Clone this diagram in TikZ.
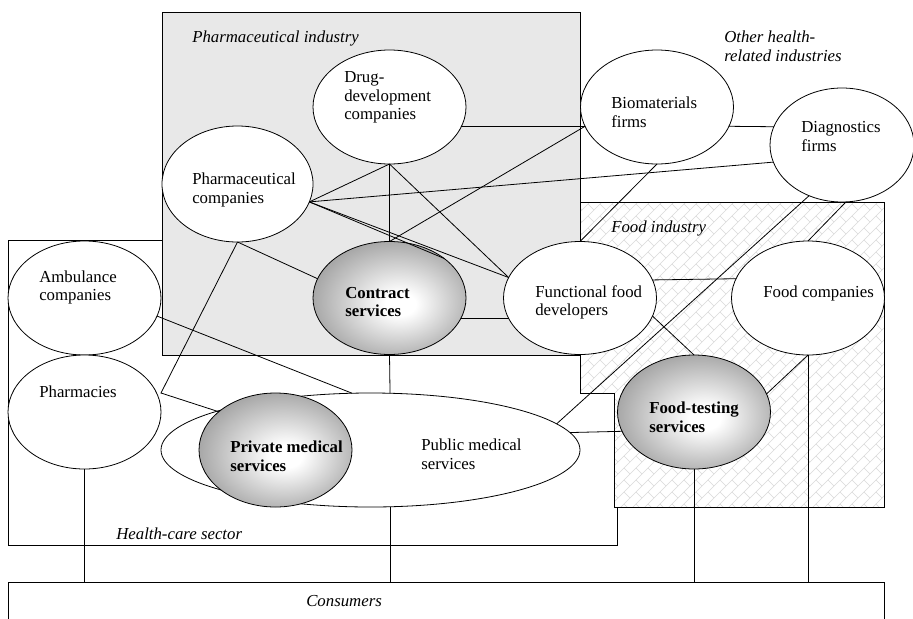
\documentclass[tikz,border=0pt]{standalone}
\usepackage{fontspec}
\setmainfont{Liberation Serif}
\usetikzlibrary{shapes.geometric}
\definecolor{pharmabg}{RGB}{232,232,232}
\definecolor{hatchgray}{RGB}{218,218,218}
% soft highlight for the service ellipses
\pgfdeclareradialshading{servshade}{\pgfpoint{4bp}{-3bp}}{color(0bp)=(white); color(5bp)=(white); color(28bp)=(black!36); color(50bp)=(black!68)}

\begin{document}
\begin{tikzpicture}[x=0.75pt,y=-0.75pt,
  frame/.style={draw=black, line width=0.7pt},
  conn/.style={draw=black, line width=0.6pt},
  hatch/.style={draw=hatchgray, line width=0.45pt},
  ell/.style={ellipse, draw=black, line width=0.6pt, fill=white, inner sep=0pt, outer sep=0pt,
              minimum width=114.75pt, minimum height=85.5pt},
  svc/.style={ell, shading=servshade},
  txt/.style={font=\fontsize{12.6pt}{14pt}\selectfont, align=left, inner sep=0pt, anchor=west},
  itxt/.style={txt, font=\fontsize{12.6pt}{14pt}\selectfont\itshape},
  btxt/.style={txt, font=\fontsize{12.6pt}{14pt}\selectfont\bfseries}]

\useasboundingbox (0,0) rectangle (913,618);
\clip (0,0) rectangle (913,618);
\fill[white] (0,0) rectangle (913,618);

% sector frames
\draw[frame, fill=white] (8,240) rectangle (617,545);
\draw[frame, fill=pharmabg] (162,12) rectangle (580,355);
\begin{scope}
  \clip (580,202) -- (884,202) -- (884,507) -- (614,507) -- (614,393) -- (580,393) -- cycle;
  \fill[white] (580,202) rectangle (884,507);
  % diagonal brick hatching
  \foreach \k in {0,...,52}{
    \pgfmathsetmacro{\c}{780+12*\k}
    \draw[hatch] ({(\c+60)/2},{(\c-60)/2}) -- ({(\c+720)/2},{(\c-720)/2});
    \pgfmathtruncatemacro{\off}{12*mod(\k,2)}
    \foreach \m in {0,...,27}{
      \pgfmathsetmacro{\d}{60+24*\m+\off}
      \draw[hatch] ({(\c+\d)/2},{(\c-\d)/2}) -- ({(\c+12+\d)/2},{(\c+12-\d)/2});
    }
  }
\end{scope}
\draw[frame] (580,202) -- (884,202) -- (884,507) -- (614,507) -- (614,393) -- (580,393) -- cycle;

% consumers bar (runs off the lower edge)
\node[frame, anchor=north west, minimum width=657pt, minimum height=36pt, inner sep=0pt, outer sep=0pt] (consumers) at (8,582) {};

% actors
\node[ell] (drug) at (389.5,107) {};
\node[ell, minimum width=113.25pt, minimum height=87pt] (pharm) at (237.5,184) {};
\node[ell] (bio) at (657,107) {};
\node[ell, minimum width=108pt] (diag) at (842,145) {};
\node[ell, minimum height=84.75pt] (func) at (580,298) {};
\node[ell] (foodc) at (808,298) {};
\node[ell] (amb) at (84.5,298) {};
\node[ell] (pharmacies) at (84.5,412) {};
\node[ell, minimum width=314.25pt] (public) at (370.5,450) {};
\node[svc, minimum height=84.75pt] (contract) at (389.5,298) {};
\node[svc] (private) at (275.5,450) {};
\node[svc] (foodtest) at (694,412) {};
\coordinate (bend) at (161,393);

% links
\draw[conn] (drug.-15.6) -- (bio.195.6);
\draw[conn] (bio.-15.6) -- (diag.165.2);
\draw[conn] (pharm.-14.1) -- (drug.south);
\draw[conn] (pharm.-14.1) -- (diag.194.8);
\draw[conn] (pharm.-14.1) -- (func.164.7);
\draw[conn] (pharm.-14.1) -- (contract.36.8);
\draw[conn] (drug.south) -- (contract.north);
\draw[conn] (drug.south) -- (func.164.7);
\draw[conn] (contract.north) -- (bio.195.6);
\draw[conn] (pharm.south) -- (contract.165.6);
\draw[conn] (pharm.south) -- (bend) -- (private.146.5);
\draw[conn] (amb.-14.8) -- (public.108);
\draw[conn] (contract.south) -- (public.71.5);
\draw[conn] (public.-71.5) -- (public.-71.5 |- consumers.north);
\draw[conn] (pharmacies.south) -- (pharmacies.south |- consumers.north);
\draw[conn] (contract.-16) -- (func.196);
\draw[conn] (func.14.4) -- (foodc.165.56);
\draw[conn] (func.-14.6) -- (foodtest.north);
\draw[conn] (foodc.south) -- (foodtest.14);
\draw[conn] (foodc.south) -- (foodc.south |- consumers.north);
\draw[conn] (foodtest.south) -- (foodtest.south |- consumers.north);
\draw[conn] (public.5.17) -- (foodtest.195.7);
\draw[conn] (public.8.72) -- (diag.-123);
\draw[conn] (foodc.north) -- (diag.-86);
\draw[conn] (bio.south) -- (func.north);

% texts of the actors
\node[txt] (drugT) at (344,97.5) {Drug-\\development\\companies};
\node[txt] (pharmT) at (192,190) {Pharmaceutical\\companies};
\node[txt] (bioT) at (611,112.5) {Biomaterials\\firms};
\node[txt] (diagT) at (801,136.5) {Diagnostics\\firms};
\node[txt] (funcT) at (535,302.5) {Functional food\\developers};
\node[txt] (foodcT) at (763,293) {Food companies};
\node[txt] (ambT) at (39,287.5) {Ambulance\\companies};
\node[txt] (pharmaciesT) at (39,392) {Pharmacies};
\node[txt] (publicT) at (421,454.5) {Public medical\\services};
\node[btxt] (contractT) at (345,302) {Contract\\services};
\node[btxt] (privateT) at (230,456.5) {Private medical\\services};
\node[btxt] (foodtestT) at (649,417.5) {Food-testing\\services};

% sector titles
\node[itxt] (pharmaL) at (192,38) {Pharmaceutical industry};
\node[itxt] (otherL) at (724,46.5) {Other health-\\related industries};
\node[itxt] (foodL) at (611,228) {Food industry};
\node[itxt] (healthL) at (116,534) {Health-care sector};
\node[itxt] (consumersL) at (306,601) {Consumers};
\end{tikzpicture}
\end{document}
